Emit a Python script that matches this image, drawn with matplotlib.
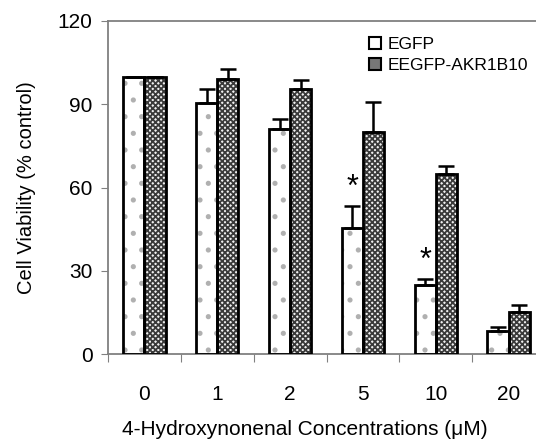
import numpy as np
import matplotlib
matplotlib.use("Agg")
import matplotlib.pyplot as plt
from matplotlib.lines import Line2D

plt.rcParams['font.family'] = ['Liberation Sans', 'DejaVu Sans']
plt.rcParams['hatch.linewidth'] = 1.3

# 데이터
concs = ['0', '1', '2', '5', '10', '20']
egfp = [100, 90.6, 81.2, 45.5, 24.8, 8.4]
egfp_err = [0, 5.0, 3.6, 8.0, 2.3, 1.2]
akr = [100, 99.2, 95.6, 80.0, 64.8, 15.3]
akr_err = [0, 3.4, 3.0, 10.8, 3.0, 2.2]
star_idx = [3, 4]

fig = plt.figure(figsize=(5.36, 4.41), dpi=100)
ax = fig.add_axes([108/536, 1 - 354/441, 437/536, 333/441])

x = np.arange(len(concs))
w = 0.29

# 채우기 (무늬)
ax.bar(x - w/2, egfp, w, color='white', edgecolor='#b0b0b0', hatch='.', linewidth=0, zorder=2)
ax.bar(x + w/2, akr, w, color='#f0f0f0', edgecolor='#3a3a3a', hatch='xxxxxx', linewidth=0, zorder=2)
# 테두리
ax.bar(x - w/2, egfp, w, fill=False, edgecolor='black', linewidth=2, zorder=3)
ax.bar(x + w/2, akr, w, fill=False, edgecolor='black', linewidth=2, zorder=3)

# 오차 막대 (위쪽만)
ax.errorbar(x - w/2, egfp, yerr=[np.zeros(len(egfp)), egfp_err], fmt='none',
            ecolor='black', elinewidth=1.8, capsize=6, capthick=1.8, zorder=4)
ax.errorbar(x + w/2, akr, yerr=[np.zeros(len(akr)), akr_err], fmt='none',
            ecolor='black', elinewidth=1.8, capsize=6, capthick=1.8, zorder=4)

for i in star_idx:
    ax.text(x[i] - w/2, egfp[i] + egfp_err[i] + 1.0, '*', ha='center', va='bottom', fontsize=22)

ax.set_ylim(0, 120)
ax.set_xlim(-0.5, 5.5)
ax.set_yticks([0, 30, 60, 90, 120])
ax.tick_params(axis='y', direction='out', length=5, color='#808080', labelsize=15, pad=6)

ax.set_xticks(np.arange(-0.5, 6, 1))
ax.set_xticklabels([])
ax.set_xticks(x, minor=True)
ax.set_xticklabels(concs, minor=True)
ax.tick_params(axis='x', which='major', direction='out', length=6, color='#808080')
ax.tick_params(axis='x', which='minor', length=0, labelsize=15, pad=22)

for s in ['left', 'bottom', 'top']:
    ax.spines[s].set_color('#808080')
    ax.spines[s].set_linewidth(1.3)
ax.spines['right'].set_visible(False)

ax.set_ylabel('Cell Viability (% control)', fontsize=14.5, labelpad=16)
ax.set_xlabel('4-Hydroxynonenal Concentrations (\u03bcM)', fontsize=15, labelpad=12, x=0.45)

handles = [
    Line2D([], [], marker='s', linestyle='none', markersize=8, markerfacecolor='white',
           markeredgecolor='black', markeredgewidth=1.5),
    Line2D([], [], marker='s', linestyle='none', markersize=8, markerfacecolor='#777777',
           markeredgecolor='black', markeredgewidth=1.5),
]
ax.legend(handles, ['EGFP', 'EEGFP-AKR1B10'], loc='upper left', bbox_to_anchor=(0.56, 1.0),
          frameon=False, fontsize=12.5, handlelength=0.8, handletextpad=0.3, labelspacing=0.35)

fig.savefig('out.png', dpi=100)
